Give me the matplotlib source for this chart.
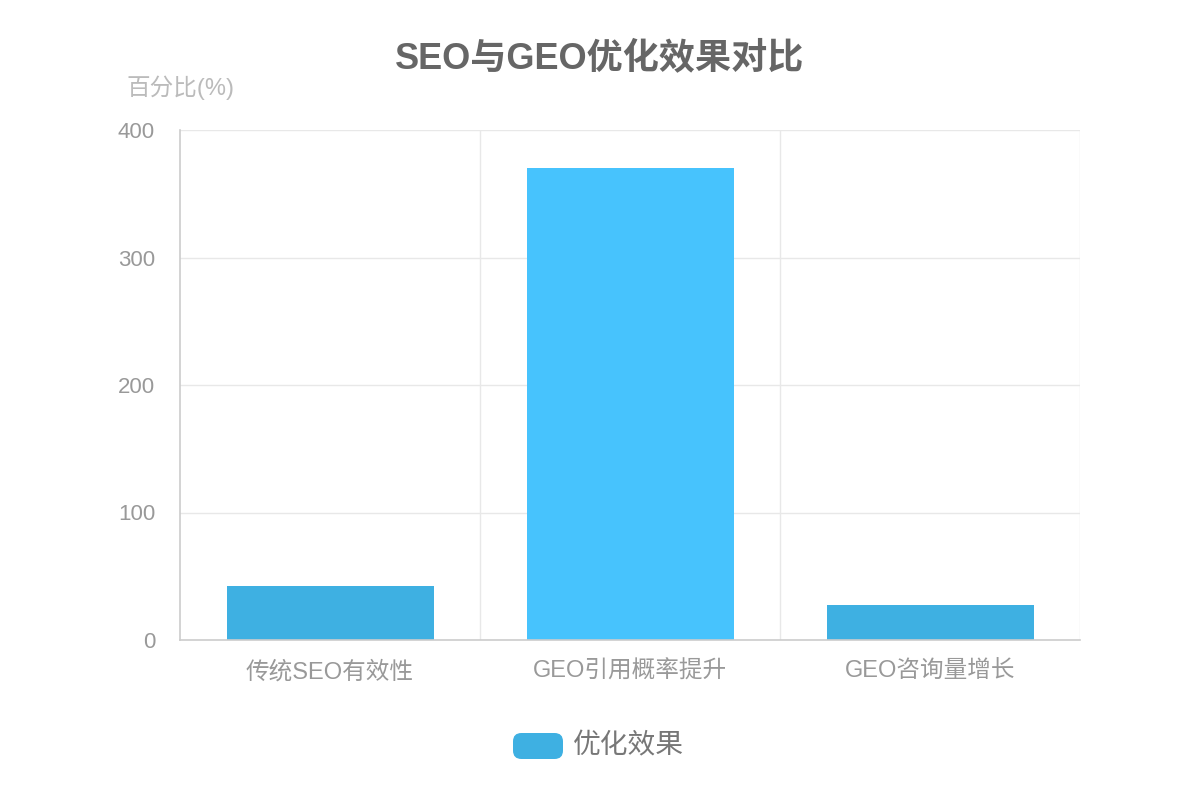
import matplotlib
matplotlib.use("Agg")
import matplotlib.pyplot as plt
from matplotlib.patches import FancyBboxPatch

plt.rcParams['font.family'] = ['Liberation Sans', 'Noto Sans CJK SC', 'DejaVu Sans']

categories = ["传统SEO有效性", "GEO引用概率提升", "GEO咨询量增长"]
values = [42, 370, 27.5]
series_name = "优化效果"
title = "SEO与GEO优化效果对比"
y_name = "百分比(%)"
y_ticks = [0, 100, 200, 300, 400]

bar_colors = ["#3EB0E2", "#47C3FD", "#3EB0E2"]
legend_color = "#3EB0E2"

fig = plt.figure(figsize=(12, 8), dpi=100)
ax = fig.add_axes([0.15, 0.2, 0.75, 0.6375])

x = list(range(len(categories)))
ax.bar(x, values, width=0.69, color=bar_colors, zorder=3)

ax.set_xlim(-0.5, len(categories) - 0.5)
ax.set_ylim(0, 400)
ax.set_yticks(y_ticks)
ax.set_yticklabels([str(t) for t in y_ticks])
ax.set_xticks(x)
ax.set_xticklabels(categories)

# grid lines
for t in y_ticks[1:]:
    ax.axhline(t, color="#E8E8E8", lw=1, zorder=1)
for b in [0.5, 1.5, 2.5]:
    ax.axvline(b, color="#E8E8E8", lw=1, zorder=1)

for s in ["top", "right"]:
    ax.spines[s].set_visible(False)
ax.spines["left"].set_color("#CCCCCC")
ax.spines["bottom"].set_color("#CCCCCC")
ax.spines["left"].set_linewidth(1.2)
ax.spines["bottom"].set_linewidth(1.2)
ax.spines["bottom"].set_zorder(4)

ax.tick_params(axis="both", length=0, colors="#999999")
ax.tick_params(axis="y", labelsize=16, pad=18)
ax.tick_params(axis="x", labelsize=17, pad=15)
for lab in ax.get_xticklabels():
    lab.set_color("#999999")

fig.text(0.5, 0.927, title, ha="center", va="center", fontsize=26,
         fontweight="bold", color="#666666")
fig.text(0.15, 0.89, y_name, ha="center", va="center", fontsize=17,
         color="#BBBBBB")

# legend
lx, ly, lw_, lh = 513 / 1200, 1 - 759 / 800, 50 / 1200, 26 / 800
patch = FancyBboxPatch((lx, ly), lw_, lh, boxstyle="round,pad=0,rounding_size=0.007",
                       transform=fig.transFigure, facecolor=legend_color,
                       edgecolor="none", mutation_aspect=1.5)
fig.patches.append(patch)
fig.text(573 / 1200, 1 - 746 / 800, series_name, ha="left", va="center",
         fontsize=20, color="#777777")

fig.savefig("out.png", dpi=100, facecolor="white")
